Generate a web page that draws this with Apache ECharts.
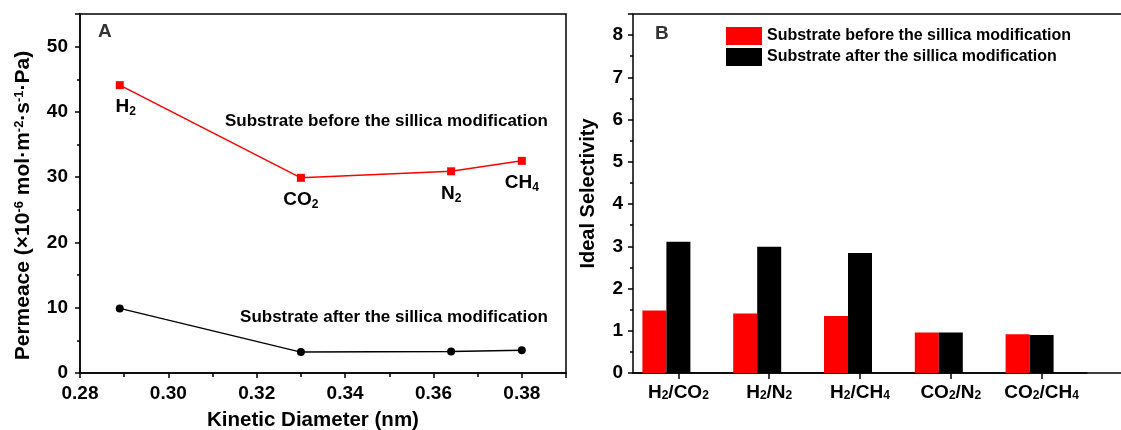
<!DOCTYPE html>
<html>
<head>
<meta charset="utf-8">
<script src="https://cdn.jsdelivr.net/npm/echarts@6/dist/echarts.min.js"></script>
<style>
  html, body { margin: 0; padding: 0; background: #fff; }
  #chart { width: 1121px; height: 430px; }
</style>
</head>
<body>
<div id="chart"></div>
<script>
// panel A: permeance vs kinetic diameter
const gasNames = ['H2', 'CO2', 'N2', 'CH4'];
const kineticDiameter = [0.289, 0.330, 0.364, 0.380];
const permBefore = [44.1, 29.9, 30.9, 32.5];
const permAfter = [9.9, 3.2, 3.3, 3.5];

// panel B: ideal selectivity
const pairNames = ['H2/CO2', 'H2/N2', 'H2/CH4', 'CO2/N2', 'CO2/CH4'];
const selBefore = [1.48, 1.41, 1.35, 0.96, 0.92];
const selAfter = [3.11, 2.99, 2.84, 0.96, 0.90];

const seriesNames = ['Substrate before the sillica modification', 'Substrate after the sillica modification'];

const FONT = '"Liberation Sans", Arial, sans-serif';

// 数字写成下标
function subText(s) {
    return s.replace(/(\d)/g, '{sub|$1}');
}

const richSub = {
    sub: { fontSize: 12, fontWeight: 'bold', fontFamily: FONT, color: '#000', lineHeight: 12, verticalAlign: 'bottom' }
};
const richSup = {
    sup: { fontSize: 13, fontWeight: 'bold', fontFamily: FONT, color: '#000', lineHeight: 12, verticalAlign: 'top' }
};

const tickLabel = { fontSize: 19, fontWeight: 'bold', fontFamily: FONT, color: '#000' };
const nameStyle = { fontWeight: 'bold', fontFamily: FONT, color: '#000' };
const blackLine = { lineStyle: { color: '#000', width: 1.5 } };
const tickStyle = { color: '#000', width: 1.5 };

const chart = echarts.init(document.getElementById('chart'), null, { renderer: 'canvas' });

const option = {
    animation: false,
    textStyle: { fontFamily: FONT },
    grid: [
        // A
        { left: 80, top: 14, width: 486, height: 359, outerBoundsMode: 'none', show: true, borderColor: '#000', borderWidth: 1.5 },
        // B 柱子
        { left: 633, top: 14, width: 454, height: 359, outerBoundsMode: 'none' },
        // B 外框，右边被裁掉
        { left: 633, top: 14, right: -3, height: 359, outerBoundsMode: 'none', show: true, borderColor: '#000', borderWidth: 1.5 }
    ],
    xAxis: [{
        gridIndex: 0,
        type: 'value',
        min: 0.28,
        max: 0.39,
        interval: 0.02,
        name: 'Kinetic Diameter (nm)',
        nameLocation: 'middle',
        nameGap: 37,
        nameMoveOverlap: false,
        nameTextStyle: Object.assign({ fontSize: 20.5, padding: [0, 20, 0, 0] }, nameStyle),
        axisLine: blackLine,
        axisTick: { show: true, length: 5, lineStyle: tickStyle },
        minorTick: { show: true, splitNumber: 2, length: 4, lineStyle: tickStyle },
        splitLine: { show: false },
        axisLabel: Object.assign({ margin: 11, showMaxLabel: false, formatter: v => v.toFixed(2) }, tickLabel)
    }, {
        gridIndex: 1,
        type: 'category',
        data: pairNames,
        axisLine: blackLine,
        axisTick: { show: true, length: 6, interval: 0, alignWithLabel: true, lineStyle: tickStyle },
        splitLine: { show: false },
        axisLabel: Object.assign({
            margin: 10,
            interval: 0,
            hideOverlap: false,
            formatter: v => subText(v),
            rich: richSub
        }, tickLabel)
    }, {
        gridIndex: 2,
        type: 'value',
        show: false
    }],
    yAxis: [{
        gridIndex: 0,
        type: 'value',
        min: 0,
        max: 55,
        interval: 10,
        name: 'Permeace (×10{sup|-6} mol·m{sup|-2}·s{sup|-1}·Pa)',
        nameLocation: 'middle',
        nameGap: 46,
        nameMoveOverlap: false,
        nameTextStyle: Object.assign({ fontSize: 21, rich: richSup, padding: [0, 24, 0, 0] }, nameStyle),
        axisLine: blackLine,
        axisTick: { show: true, length: 5, lineStyle: tickStyle },
        minorTick: { show: true, splitNumber: 2, length: 3, lineStyle: tickStyle },
        splitLine: { show: false },
        axisLabel: Object.assign({ margin: 12, showMaxLabel: false }, tickLabel)
    }, {
        gridIndex: 1,
        type: 'value',
        min: 0,
        max: 8.5,
        interval: 1,
        name: 'Ideal Selectivity',
        nameLocation: 'middle',
        nameGap: 35,
        nameMoveOverlap: false,
        nameTextStyle: Object.assign({ fontSize: 20 }, nameStyle),
        axisLine: blackLine,
        axisTick: { show: true, length: 5, lineStyle: tickStyle },
        minorTick: { show: true, splitNumber: 2, length: 3, lineStyle: tickStyle },
        splitLine: { show: false },
        axisLabel: Object.assign({ margin: 10, showMaxLabel: false }, tickLabel)
    }, {
        gridIndex: 2,
        type: 'value',
        show: false
    }],
    legend: {
        data: seriesNames,
        orient: 'vertical',
        left: 726,
        top: 27,
        padding: 0,
        itemWidth: 36,
        itemHeight: 18,
        itemGap: 3,
        icon: 'rect',
        textStyle: { fontSize: 16, fontWeight: 'bold', fontFamily: FONT, color: '#000' }
    },
    graphic: [
        { type: 'text', left: 98, top: 22, style: { text: 'A', font: 'bold 19px ' + FONT, fill: '#333' } },
        { type: 'text', left: 655, top: 24, style: { text: 'B', font: 'bold 19px ' + FONT, fill: '#333' } },
        { type: 'text', right: 1121 - 548, top: 113, style: { text: seriesNames[0], font: 'bold 17px ' + FONT, fill: '#000' } },
        { type: 'text', right: 1121 - 548, top: 309, style: { text: seriesNames[1], font: 'bold 17px ' + FONT, fill: '#000' } }
    ],
    series: [{
        name: 'before-line',
        type: 'line',
        xAxisIndex: 0,
        yAxisIndex: 0,
        data: kineticDiameter.map((d, i) => [d, permBefore[i]]),
        symbol: 'rect',
        symbolSize: 8,
        itemStyle: { color: '#ff0000' },
        lineStyle: { color: '#ff0000', width: 1.5 },
        label: {
            show: true,
            position: 'bottom',
            distance: 7,
            formatter: p => subText(gasNames[p.dataIndex]),
            fontSize: 19,
            fontWeight: 'bold',
            fontFamily: FONT,
            color: '#000',
            lineHeight: 22,
            rich: richSub
        },
        labelLayout: p => (p.dataIndex === 0 ? { dx: 6 } : {})
    }, {
        name: 'after-line',
        type: 'line',
        xAxisIndex: 0,
        yAxisIndex: 0,
        data: kineticDiameter.map((d, i) => [d, permAfter[i]]),
        symbol: 'circle',
        symbolSize: 8,
        itemStyle: { color: '#000' },
        lineStyle: { color: '#000', width: 1.5 }
    }, {
        name: seriesNames[0],
        type: 'bar',
        xAxisIndex: 1,
        yAxisIndex: 1,
        data: selBefore,
        barWidth: 24,
        barGap: '0%',
        itemStyle: { color: '#ff0000' }
    }, {
        name: seriesNames[1],
        type: 'bar',
        xAxisIndex: 1,
        yAxisIndex: 1,
        data: selAfter,
        barWidth: 24,
        barGap: '0%',
        itemStyle: { color: '#000' }
    }, {
        // 占位，让黑柱对准刻度（原图就是这样偏的）
        name: 'spacer',
        type: 'bar',
        xAxisIndex: 1,
        yAxisIndex: 1,
        data: pairNames.map(() => null),
        barWidth: 24,
        barGap: '0%',
        silent: true
    }]
};

chart.setOption(option);
</script>
</body>
</html>
